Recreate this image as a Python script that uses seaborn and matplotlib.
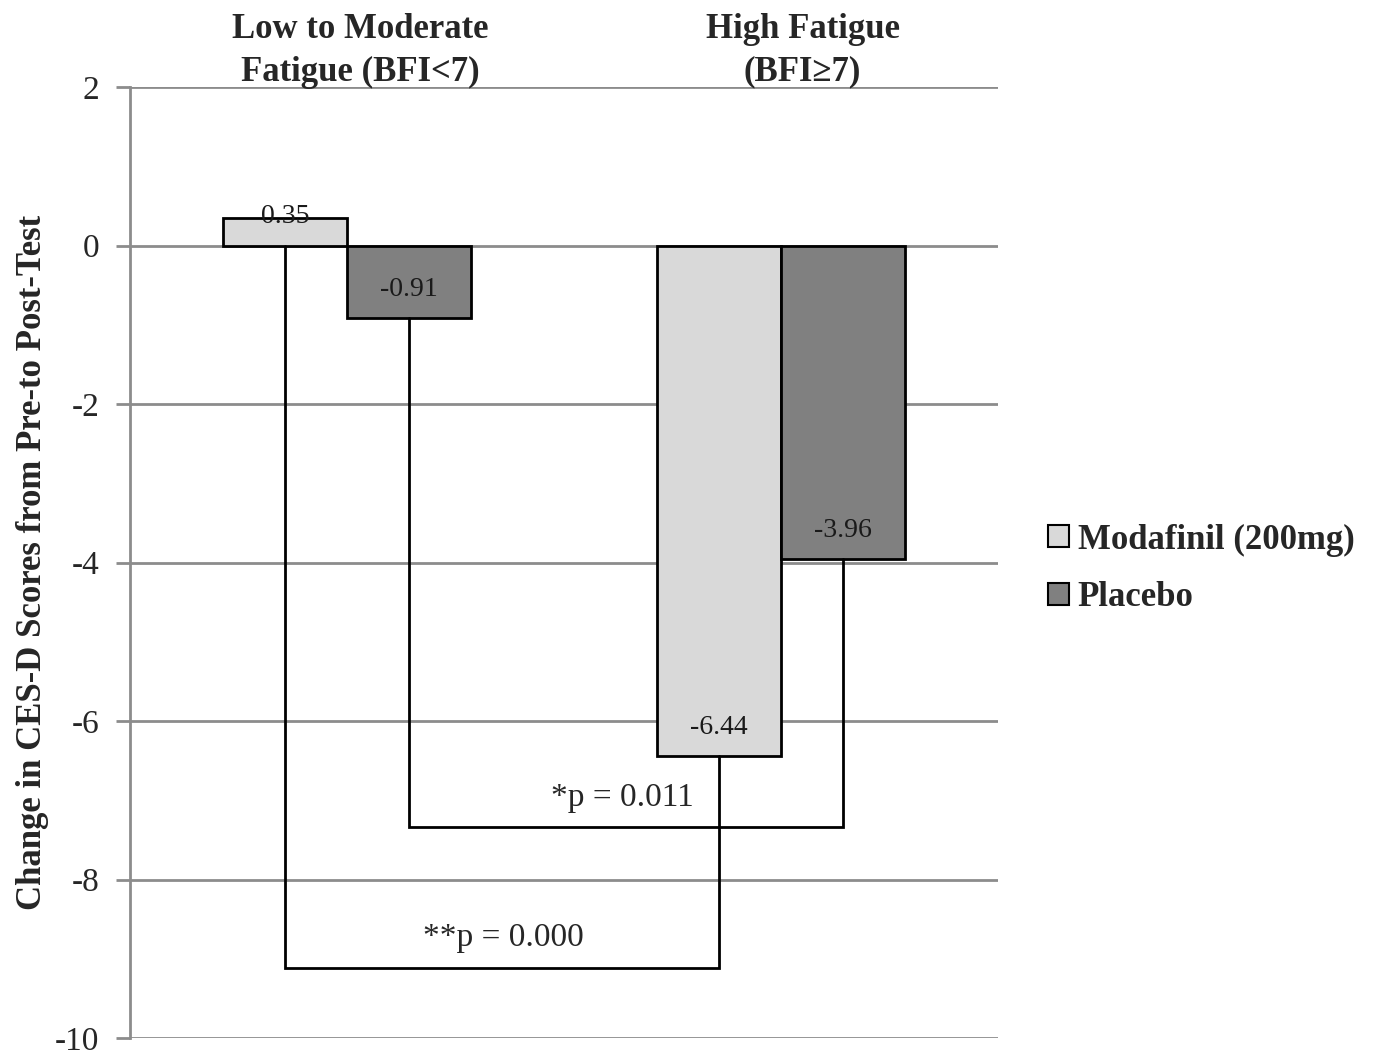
import matplotlib
matplotlib.use("Agg")
from matplotlib import pyplot as plt
import numpy as np
import pandas as pd
import seaborn as sns

# data
groups = ["Low to Moderate\nFatigue (BFI<7)", "High Fatigue\n(BFI\u22657)"]
treatments = ["Modafinil (200mg)", "Placebo"]
modafinil = [0.35, -6.44]
placebo = [-0.91, -3.96]
value_labels = [["0.35", "-6.44"], ["-0.91", "-3.96"]]
p_labels = ["**p = 0.000", "*p = 0.011"]
bracket_y = [-9.12, -7.34]
p_label_pos = [(0.36, -8.74), (0.635, -6.97)]
yticks = [2, 0, -2, -4, -6, -8, -10]

df = pd.DataFrame({
    "group": groups * 2,
    "treatment": [treatments[0]] * 2 + [treatments[1]] * 2,
    "change": modafinil + placebo,
})

sns.set_style("white")
plt.rcParams["font.family"] = ["Liberation Serif", "DejaVu Serif"]
plt.rcParams["axes.unicode_minus"] = False

colors = ["#d9d9d9", "#808080"]
grid_col = "#8c8c8c"

fig = plt.figure(figsize=(13.74, 10.55), dpi=100)
ax = fig.add_axes([0.0946, 0.0161, 0.7263 - 0.0946, 0.9175 - 0.0161])

sns.barplot(data=df, x="group", y="change", hue="treatment", order=groups,
            hue_order=treatments, palette=colors, width=0.573, ax=ax,
            edgecolor="black", linewidth=2, saturation=1, legend=False, zorder=3)

ax.set_xlim(-0.5, 1.5)
ax.set_ylim(-10, 2)
ax.set_yticks(yticks)
ax.set_yticklabels([str(t) for t in yticks], fontsize=24)
ax.tick_params(axis="y", left=True, length=10, width=2, color=grid_col, pad=12)
ax.tick_params(axis="x", bottom=False, labelbottom=False)
ax.set_xlabel("")
ax.set_ylabel("Change in CES-D Scores from Pre-to Post-Test", fontsize=25,
              fontweight="bold", labelpad=4)
ax.yaxis.grid(True, color=grid_col, linewidth=2, zorder=0)
ax.set_axisbelow(True)
for side in ["top", "right", "bottom"]:
    ax.spines[side].set_visible(False)
ax.spines["left"].set_color(grid_col)
ax.spines["left"].set_linewidth(2)
ax.spines["left"].set_zorder(1)

# bar centres, by treatment then group
off = 0.573 / 4
xs = [[i - off for i in range(2)], [i + off for i in range(2)]]
vals = [modafinil, placebo]

# value labels inside the bars near their ends (short positive bar: on its edge)
for t in range(2):
    for g in range(2):
        v = vals[t][g]
        ly = v + 0.36 if v < 0 else v + 0.02
        ax.text(xs[t][g], ly, value_labels[t][g], ha="center",
                va="center", fontsize=20, color="#1a1a1a", zorder=5)

# brackets between the groups
for t in range(2):
    x0, x1 = xs[t][0], xs[t][1]
    y0 = min(vals[t][0], 0)
    y1 = min(vals[t][1], 0)
    yb = bracket_y[t]
    ax.plot([x0, x0, x1, x1], [y0, yb, yb, y1], color="black", linewidth=2,
            zorder=4, solid_joinstyle="miter")
    px, py = p_label_pos[t]
    ax.text(px, py, p_labels[t], ha="center", va="center", fontsize=24, zorder=5)

# group titles above the plot
title_x = [0.03, 0.05]
for g in range(2):
    ax.text(g + title_x[g], 1.98, groups[g], ha="center", va="bottom",
            fontsize=25, fontweight="bold", linespacing=1.4)

handles = [plt.Rectangle((0, 0), 1, 1, facecolor=c, edgecolor="black", linewidth=1.5)
           for c in colors]
fig.legend(handles, treatments, loc="center left", bbox_to_anchor=(0.74, 0.461),
           frameon=False, handlelength=0.6, handleheight=0.6, handletextpad=0.25,
           labelspacing=0.7, prop={"size": 25, "weight": "bold"})

fig.savefig("out.png", dpi=100)
